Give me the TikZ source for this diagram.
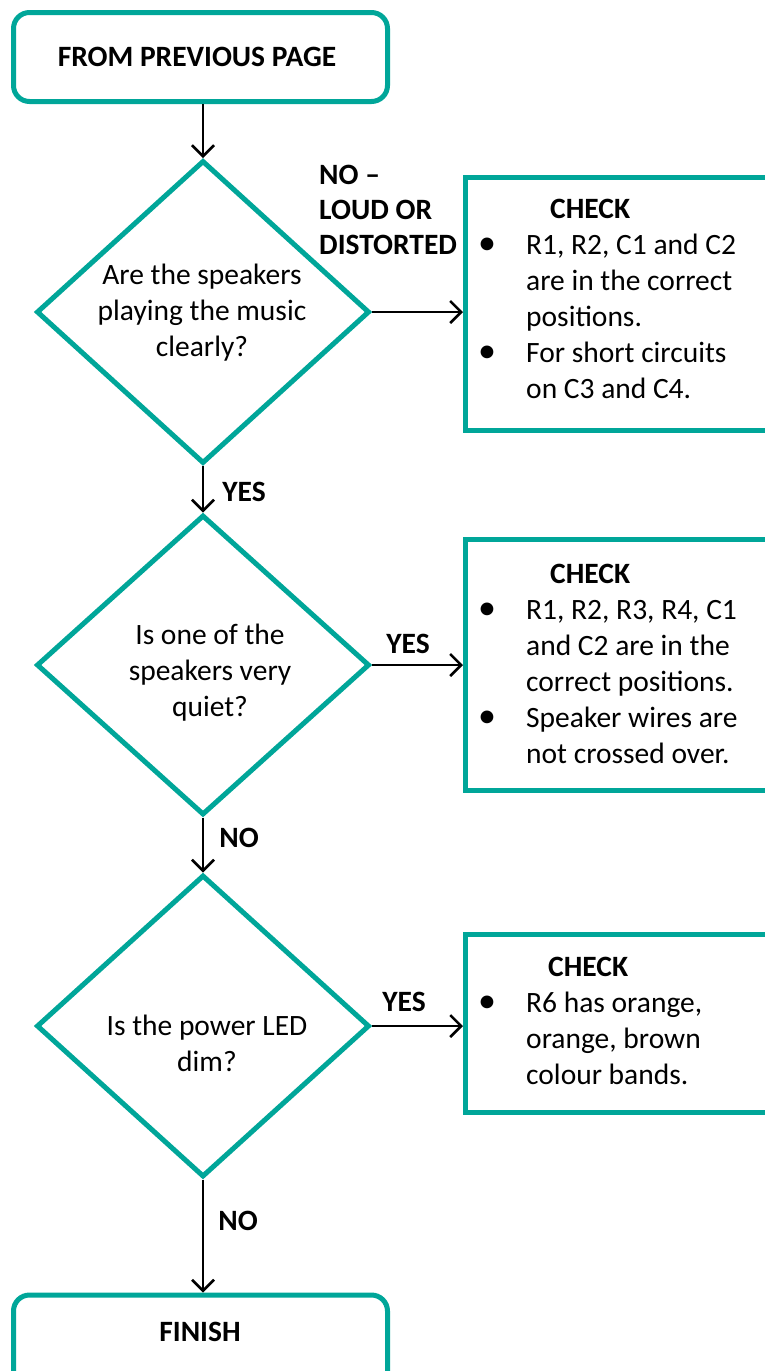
\documentclass[tikz,border=0pt]{standalone}
\usepackage{fontspec}
\setmainfont{Carlito}
\usetikzlibrary{arrows.meta,shapes.geometric}
\definecolor{tealb}{RGB}{0,166,153}
\tikzset{
  term/.style={draw=tealb, line width=5pt, rounded corners=16pt, inner sep=0pt, fill=white},
  chkbox/.style={draw=tealb, line width=5pt, inner sep=0pt, fill=white},
  decision/.style={draw=tealb, line width=5pt, diamond, inner sep=0pt, fill=white},
  body/.style={inner sep=0pt, font=\fontsize{29.5}{36}\selectfont},
  lbl/.style={inner sep=0pt, font=\fontsize{29.5}{35}\selectfont\bfseries},
  flow/.style={line width=2.5pt, -{Straight Barb[length=11pt,width=22pt,line width=2.5pt]}}
}
\newcommand\bul{{\fontsize{36}{36}\selectfont\textbullet}}
\begin{document}
\begin{tikzpicture}[x=1pt,y=-1pt]
\useasboundingbox (0,0) rectangle (765,1371);
\clip (0,0) rectangle (765,1371);
% terminals
\node[term, minimum width=374pt, minimum height=89pt] (top) at (200.5,57) {};
\node[lbl] (toptxt) at (197,57) {FROM PREVIOUS PAGE};
\node[term, minimum width=374pt, minimum height=100pt] (fin) at (200.5,1345) {};
\node[lbl] (fintxt) at (200,1332) {FINISH};
% decisions
\node[decision, minimum width=333pt, minimum height=303pt] (d1) at (203,312) {};
\node[body, align=center] (d1t) at (202,313) {Are the speakers\\playing the music\\clearly?};
\node[decision, minimum width=333pt, minimum height=300pt] (d2) at (203,665) {};
\node[body, align=center] (d2t) at (210,673) {Is one of the\\speakers very\\quiet?};
\node[decision, minimum width=333pt, minimum height=302pt] (d3) at (203,1026) {};
\node[body, align=center] (d3t) at (207,1043) {Is the power LED\\dim?};
% check boxes
\node[chkbox, minimum width=330pt, minimum height=253pt] (c1) at (630.5,304) {};
\node[body, anchor=west] (c1t) at (478,301.5) {\begin{tabular}{@{}p{48pt}@{}l@{}}
\multicolumn{2}{@{}l@{}}{\hspace{72pt}\bfseries CHECK}\\
\bul & R1, R2, C1 and C2\\
 & are in the correct\\
 & positions.\\
\bul & For short circuits\\
 & on C3 and C4.
\end{tabular}};
\node[chkbox, minimum width=330pt, minimum height=251pt] (c2) at (630.5,665) {};
\node[body, anchor=west] (c2t) at (478,666) {\begin{tabular}{@{}p{48pt}@{}l@{}}
\multicolumn{2}{@{}l@{}}{\hspace{72pt}\bfseries CHECK}\\
\bul & R1, R2, R3, R4, C1\\
 & and C2 are in the\\
 & correct positions.\\
\bul & Speaker wires are\\
 & not crossed over.
\end{tabular}};
\node[chkbox, minimum width=330pt, minimum height=178pt] (c3) at (630.5,1023.5) {};
\node[body, anchor=west] (c3t) at (478,1023) {\begin{tabular}{@{}p{48pt}@{}l@{}}
\multicolumn{2}{@{}l@{}}{\hspace{70pt}\bfseries CHECK}\\
\bul & R6 has orange,\\
 & orange, brown\\
 & colour bands.
\end{tabular}};
% connectors
\draw[flow] (top.south -| d1.north) -- (d1.north);
\draw[flow] (d1.south) -- (d2.north);
\draw[flow] (d2.south) -- (d3.north);
\draw[flow] (d3.south) -- (d3.south |- fin.north);
\draw[flow] (d1.east) -- (d1.east -| c1.west);
\draw[flow] (d2.east) -- (d2.east -| c2.west);
\draw[flow] (d3.east) -- (d3.east -| c3.west);
% labels
\node[lbl, align=left, anchor=west] (l1) at (319,210) {NO –\\LOUD OR\\DISTORTED};
\node[lbl] (l2) at (244,492) {YES};
\node[lbl] (l3) at (408,644) {YES};
\node[lbl] (l4) at (239,838) {NO};
\node[lbl] (l5) at (404,1002) {YES};
\node[lbl] (l6) at (238,1221) {NO};
\end{tikzpicture}
\end{document}
